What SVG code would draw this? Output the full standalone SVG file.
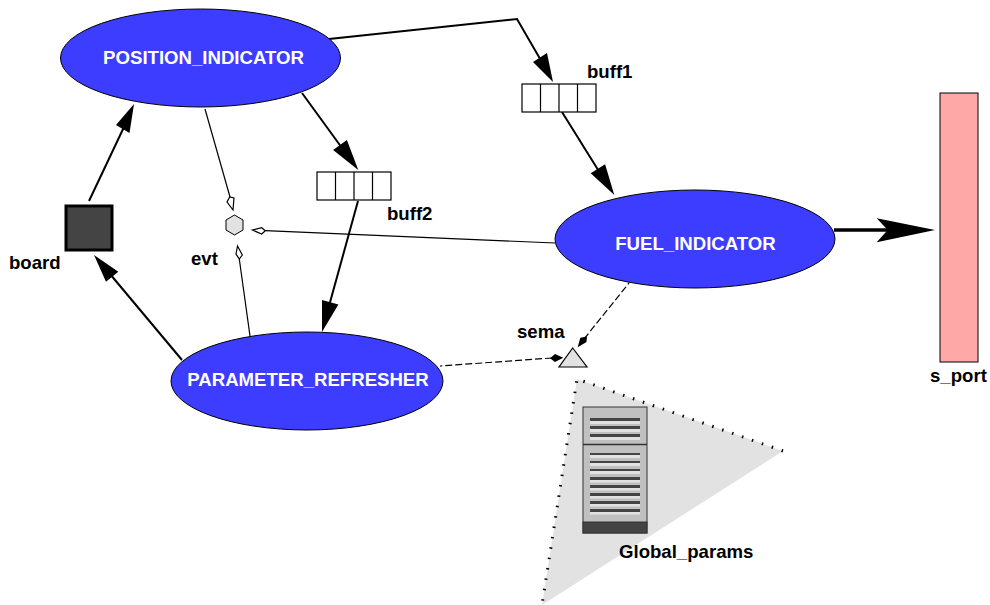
<svg xmlns="http://www.w3.org/2000/svg" width="990" height="605" viewBox="0 0 990 605">
<style>
text{font-family:"Liberation Sans",Arial,sans-serif;font-weight:bold;font-size:18.6px;fill:#000}
.t{fill:#fff;text-anchor:middle}
.e{fill:#3d3dff;stroke:#000;stroke-width:1}
.c{fill:none;stroke:#000;stroke-width:2}
.c1{fill:none;stroke:#000;stroke-width:1.2}
.d{fill:none;stroke:#000;stroke-width:1.2;stroke-dasharray:7 3}
.a{fill:#000;stroke:none}
.o{fill:#fff;stroke:#000;stroke-width:1.2}
.b{fill:#fff;stroke:#000;stroke-width:1.2}
</style>
<g id="connectors">
<path class="c" d="M329 39L517 19L550 76"/><path class="a" d="M553 82L533 62L547 53Z"/>
<path class="c" d="M562 112L600 173"/><path class="a" d="M614.300 195L590.700 173.200L605.100 164.200Z"/>
<path class="c" d="M302 93L342 148"/><path class="a" d="M358.300 170L333.100 149.900L346.900 139.900Z"/>
<path class="c" d="M358 201L329 306"/><path class="a" d="M322 332L322 299.900L338.400 304.400Z"/>
<path class="c" d="M182 360L110 274"/><path class="a" d="M94 255L118.300 271.700L106 281.700Z"/>
<path class="c" d="M89 201L124 127"/><path class="a" d="M134 104L129.500 133L116 125Z"/>
<path class="c" d="M834 230L888 230" style="stroke-width:3.500"/><path class="a" d="M935 230L876.700 242.300L887.700 230L876.700 218.300Z"/>
<path class="c1" d="M205 109L230 197"/><path class="o" d="M233 210L227 202L229.700 197L234 198Z"/>
<path class="c1" d="M250 336L239.300 259"/><path class="o" d="M237.500 246L236 254L239.300 259L242.300 255Z"/>
<path class="c1" d="M555 243L265.300 230.700"/><path class="o" d="M252.300 230L261.700 227.700L265.300 230.700L261.700 234Z"/>
<path class="d" d="M584 339L629 283"/><path class="a" d="M577.700 347.300L580.300 337.800L587 336.400L586.500 342Z"/>
<path class="d" d="M552 358L440 366"/><path class="a" d="M563.300 357.700L555 362L550 358.300L555 354Z"/>
</g>
<g id="POSITION_INDICATOR"><ellipse class="e" cx="200.500" cy="58" rx="140" ry="49"/><text class="t" x="203.500" y="64">POSITION_INDICATOR</text></g>
<g id="FUEL_INDICATOR"><ellipse class="e" cx="695" cy="239" rx="140" ry="49"/><text class="t" x="695.500" y="250">FUEL_INDICATOR</text></g>
<g id="PARAMETER_REFRESHER"><ellipse class="e" cx="307" cy="381" rx="136" ry="49"/><text class="t" x="308" y="386">PARAMETER_REFRESHER</text></g>
<g id="board"><rect x="66" y="206" width="46" height="44" fill="#444" stroke="#000" stroke-width="3"/><text x="9" y="269">board</text></g>
<g id="buff1"><rect class="b" x="522" y="84" width="74" height="28"/><path class="c1" d="M540.500 84V112M559 84V112M577.500 84V112"/><text x="587" y="78">buff1</text></g>
<g id="buff2"><rect class="b" x="317" y="172" width="74" height="28"/><path class="c1" d="M335.500 172V200M354 172V200M372.500 172V200"/><text x="387" y="220">buff2</text></g>
<g id="evt"><polygon points="234.500,215 243,220 243,230 234.500,235 226,230 226,220" fill="#e2e2e2" stroke="#000" stroke-width="1"/><text x="191" y="265">evt</text></g>
<g id="sema"><polygon points="572.700,348 587,367 559,367" fill="#e2e2e2" stroke="#000" stroke-width="1.200"/><text x="517" y="338">sema</text></g>
<g id="s_port"><rect x="940" y="93" width="38" height="269" fill="#ffa8a8" stroke="#000" stroke-width="1"/><text x="930" y="382">s_port</text></g>
<g id="Global_params">
<polygon points="577,379 783,451 542,605" fill="#e2e2e2"/>
<path d="M783 451L577 379L542 605" fill="none" stroke="#000" stroke-width="3" stroke-dasharray="1.500 9"/>
<rect x="583" y="407" width="64" height="126" fill="#c0c0c0" stroke="#333" stroke-width="1"/>
<path d="M583 444.500H647" stroke="#333" stroke-width="1.500"/>
<rect x="583" y="522" width="64" height="11" fill="#444" stroke="#333" stroke-width="1"/>
<path d="M590 422.500H640M590 430.500H640M590 438.500H640M590 456.500H640M590 464.500H640M590 472.500H640M590 481H640M590 489H640M590 497H640M590 505H640M590 513H640" stroke="#e2e2e2" stroke-width="3"/>
<path d="M590 419.500H640M590 427.500H640M590 435.500H640M590 478.500H640M590 486.500H640M590 494.500H640M590 502.500H640M590 510.500H640" stroke="#444" stroke-width="3"/>
<path d="M590 454H640M590 462H640M590 470H640" stroke="#444" stroke-width="2"/>
<text x="619" y="558">Global_params</text>
</g>
</svg>
